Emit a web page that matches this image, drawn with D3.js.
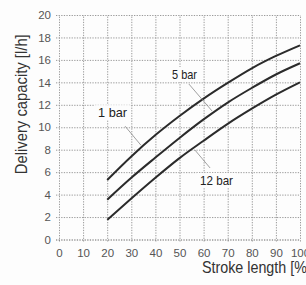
<!DOCTYPE html>
<html>
<head>
<meta charset="utf-8">
<script src="https://cdn.jsdelivr.net/npm/d3@7"></script>
<style>
  body { margin: 0; background: #fdfdfd; }
  svg { display: block; }
</style>
</head>
<body>
<div id="chart"></div>
<script>
// values
var strokeLength = [20, 30, 40, 50, 60, 70, 80, 90, 100];
var bar1  = [5.3, 7.4, 9.3, 11.0, 12.55, 13.95, 15.25, 16.35, 17.3];
var bar5  = [3.55, 5.5, 7.3, 9.05, 10.7, 12.2, 13.5, 14.7, 15.7];
var bar12 = [1.75, 3.65, 5.5, 7.25, 8.8, 10.3, 11.65, 12.9, 14.0];
var xTicks = [0, 10, 20, 30, 40, 50, 60, 70, 80, 90, 100];
var yTicks = [0, 2, 4, 6, 8, 10, 12, 14, 16, 18, 20];

// label positions in data units: text anchor and leader line end points
var labels = [
  {text: "1 bar",  x: 16.2, y: 10.9, from: [27.4, 10.1], to: [34.0, 8.4], w: 29},
  {text: "5 bar",  x: 46.9, y: 14.3, from: [53.9, 13.85], to: [63.5, 11.45], w: 25},
  {text: "12 bar", x: 58.5, y: 4.85, from: [56.4, 7.97], to: [62.7, 6.37], w: 33}
];

var svgWidth = 306, svgHeight = 285;
var margin = {top: 15, right: 6, bottom: 45.5, left: 59};
var width = svgWidth - margin.left - margin.right,
    height = svgHeight - margin.top - margin.bottom;

var svg = d3.select("#chart")
  .append("svg")
    .attr("width", svgWidth)
    .attr("height", svgHeight)
  .append("g")
    .attr("transform", `translate(${margin.left},${margin.top})`);

var x = d3.scaleLinear().domain([0, 100]).range([0, width]);
var y = d3.scaleLinear().domain([0, 20]).range([height, 0]);

var font = "'Liberation Sans', Arial, sans-serif";

// grid + ticks
var gx = svg.append("g")
  .attr("transform", `translate(0,${height})`)
  .call(d3.axisBottom(x).tickValues(xTicks).tickSize(-height - 2).tickPadding(7));
gx.select(".domain").remove();
gx.selectAll(".tick line").attr("transform", "translate(0,2)");

var gy = svg.append("g")
  .call(d3.axisLeft(y).tickValues(yTicks).tickSize(-width - 3).tickPadding(8));
gy.select(".domain").remove();
gy.selectAll(".tick line").attr("transform", "translate(-3,0)");

svg.selectAll(".tick line")
  .attr("stroke", "#9a9a9a")
  .attr("stroke-width", 1)
  .attr("stroke-dasharray", "1.3,1.3");
gy.selectAll(".tick").filter(d => d === 0).select("line")
  .attr("stroke", "#666");

svg.selectAll(".tick text")
  .attr("fill", "#555")
  .style("font-family", font)
  .style("font-size", "11.5px");
gx.selectAll(".tick text").attr("dy", "0.9em");

// white boxes behind the curve labels
labels.forEach(l => {
  svg.append("rect")
    .attr("x", x(l.x) - 3)
    .attr("y", y(l.y) - 12)
    .attr("width", l.w + 6)
    .attr("height", 15)
    .attr("fill", "#fdfdfd");
});

// curves
var series = [bar1, bar5, bar12];
var line = d3.line()
  .x((d, i) => x(strokeLength[i]))
  .y(d => y(d))
  .curve(d3.curveMonotoneX);

series.forEach(s => {
  svg.append("path")
    .datum(s)
    .attr("fill", "none")
    .attr("stroke", "#2b2b2b")
    .attr("stroke-width", 2)
    .attr("d", line);
});

// labels with leader lines
labels.forEach(l => {
  svg.append("line")
    .attr("x1", x(l.from[0])).attr("y1", y(l.from[1]))
    .attr("x2", x(l.to[0])).attr("y2", y(l.to[1]))
    .attr("stroke", "#888")
    .attr("stroke-width", 0.8);
  svg.append("text")
    .attr("x", x(l.x))
    .attr("y", y(l.y))
    .attr("textLength", l.w)
    .attr("lengthAdjust", "spacingAndGlyphs")
    .style("font-family", font)
    .style("font-size", "13px")
    .attr("fill", "#222")
    .text(l.text);
});

// axis titles
svg.append("text")
  .attr("transform", `translate(${-32},${y(10) - 23}) rotate(-90)`)
  .attr("text-anchor", "middle")
  .attr("textLength", 140)
  .attr("lengthAdjust", "spacingAndGlyphs")
  .style("font-family", font)
  .style("font-size", "17px")
  .attr("fill", "#333")
  .text("Delivery capacity [l/h]");

svg.append("text")
  .attr("x", x(59.3))
  .attr("y", height + 33.5)
  .attr("textLength", 109)
  .attr("lengthAdjust", "spacingAndGlyphs")
  .style("font-family", font)
  .style("font-size", "17px")
  .attr("fill", "#333")
  .text("Stroke length [%]");
</script>
</body>
</html>
